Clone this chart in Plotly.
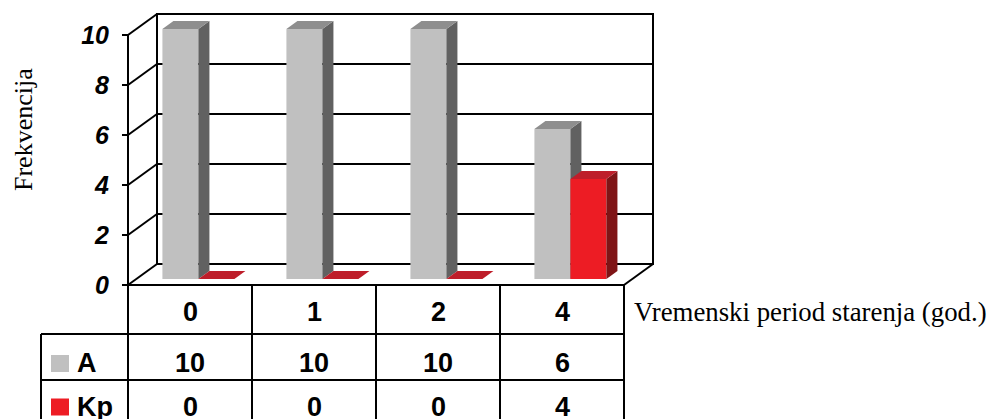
import plotly.graph_objects as go

# data
categories = ["0", "1", "2", "4"]
series_names = ["A", "Kp"]
values_A = [10, 10, 10, 6]
values_Kp = [0, 0, 0, 4]
y_ticks = [0, 2, 4, 6, 8, 10]

W, H = 987, 419
PX_X0, PX_CW = 128, 124     # pixel of x=-0.5, pixels per category
PX_Y0, PX_YU = 285, 25      # pixel of y=0, pixels per unit

XR = [-0.5 - PX_X0 / PX_CW, -0.5 + (W - PX_X0) / PX_CW]
YR = [-(H - PX_Y0) / PX_YU, PX_Y0 / PX_YU]

DX, DY = 29 / PX_CW, 21 / PX_YU     # depth of the 3d box
F0, FD = 0.29, 0.38                  # bar start depth and bar depth
BW = 36 / PX_CW                      # bar width
BASE = F0 * DY

colors = {
    "A": dict(front="#c0c0c0", side="#616161", top="#8e8e8e"),
    "Kp": dict(front="#ed1c24", side="#7f1416", top="#be1e2a"),
}
FONT = "Liberation Sans, Arial, sans-serif"
SERIF = "Liberation Serif, Times New Roman, serif"

fig = go.Figure()


def add_series(name, vals, side, z):
    c = colors[name]
    xs = [i + F0 * DX + (-BW / 2 if side == 0 else BW / 2) for i in range(len(vals))]
    fig.add_trace(go.Bar(x=xs, y=vals, base=BASE, width=BW,
                         marker=dict(color=c["front"], line=dict(width=0)),
                         hoverinfo="skip", showlegend=False, zorder=z))
    sx, sy, tx, ty = [], [], [], []
    for xc, v in zip(xs, vals):
        xl, xr = xc - BW / 2, xc + BW / 2
        b, t = BASE, BASE + v
        ddx, ddy = FD * DX, FD * DY
        if v > 0:
            sx += [xr, xr + ddx, xr + ddx, xr, xr, None]
            sy += [b, b + ddy, t + ddy, t, b, None]
        tx += [xl, xr, xr + ddx, xl + ddx, xl, None]
        ty += [t, t, t + ddy, t + ddy, t, None]
    if sx:
        fig.add_trace(go.Scatter(x=sx, y=sy, mode="lines", fill="toself",
                                 fillcolor=c["side"], line=dict(width=0),
                                 hoverinfo="skip", showlegend=False, zorder=z))
    fig.add_trace(go.Scatter(x=tx, y=ty, mode="lines", fill="toself",
                             fillcolor=c["top"], line=dict(width=0),
                             hoverinfo="skip", showlegend=False, zorder=z))


add_series("A", values_A, 0, 1)
add_series("Kp", values_Kp, 1, 2)

n = len(categories)
L, R = -0.5, n - 0.5
top = max(y_ticks)
ln = dict(color="black", width=2)
shapes = []
# back wall + grid
shapes.append(dict(type="rect", x0=L + DX, x1=R + DX, y0=DY, y1=top + DY, line=ln, layer="below"))
for v in y_ticks[1:-1]:
    shapes.append(dict(type="line", x0=L + DX, x1=R + DX, y0=v + DY, y1=v + DY, line=ln, layer="below"))
# left wall diagonals and front axis
for v in y_ticks:
    shapes.append(dict(type="line", x0=L, x1=L + DX, y0=v, y1=v + DY, line=ln, layer="below"))
shapes.append(dict(type="line", x0=L, x1=L, y0=0, y1=top, line=ln, layer="below"))
shapes.append(dict(type="line", x0=R, x1=R + DX, y0=0, y1=DY, line=ln, layer="below"))

# data table
row_y = [0, -49 / PX_YU, -95 / PX_YU, -142 / PX_YU]
LEG_L = -0.5 - (PX_X0 - 41) / PX_CW
shapes.append(dict(type="line", x0=L, x1=R, y0=row_y[0], y1=row_y[0], line=ln))
for yy in row_y[1:3]:
    shapes.append(dict(type="line", x0=LEG_L, x1=R, y0=yy, y1=yy, line=ln))
for k in range(n + 1):
    shapes.append(dict(type="line", x0=L + k, x1=L + k, y0=0, y1=row_y[-1], line=ln))
shapes.append(dict(type="line", x0=LEG_L, x1=LEG_L, y0=row_y[1], y1=row_y[-1], line=ln))

ann = []
cell_font = dict(family=FONT, size=27, color="black", weight="bold")
row_mid = [-1.08, -3.12, -4.86]
for i, cat in enumerate(categories):
    ann.append(dict(x=i, y=row_mid[0], text=cat, showarrow=False, font=cell_font))
for r, vals in enumerate([values_A, values_Kp]):
    for i, v in enumerate(vals):
        ann.append(dict(x=i, y=row_mid[r + 1], text=str(v), showarrow=False, font=cell_font))
    sw_x0 = LEG_L + 10 / PX_CW
    sw_x1 = sw_x0 + 18 / PX_CW
    yc = row_mid[r + 1] - 0.02
    shapes.append(dict(type="rect", x0=sw_x0, x1=sw_x1, y0=yc - 0.34, y1=yc + 0.34,
                       fillcolor=colors[series_names[r]]["front"], line=dict(width=0)))
    ann.append(dict(x=sw_x1 + 6 / PX_CW, y=row_mid[r + 1], text=series_names[r], xanchor="left",
                    showarrow=False, font=cell_font))

ann.append(dict(x=R + 8 / PX_CW, y=-1.08, text="Vremenski period starenja (god.)", xanchor="left",
                showarrow=False, font=dict(family=SERIF, size=26.8, color="black")))
ann.append(dict(xref="paper", yref="paper", x=23 / W, y=1 - 130 / H, text="Frekvencija", textangle=-90,
                xanchor="center", yanchor="middle",
                showarrow=False, font=dict(family=SERIF, size=26, color="black")))

fig.update_layout(
    width=W, height=H, autosize=False,
    margin=dict(l=0, r=0, t=0, b=0),
    paper_bgcolor="white", plot_bgcolor="white",
    barmode="overlay", showlegend=False,
    xaxis=dict(range=XR, visible=False, fixedrange=True),
    yaxis=dict(range=YR, tickvals=y_ticks, ticks="outside", ticklen=6, tickwidth=2, tickcolor="black",
               showgrid=False, zeroline=False, showline=False, anchor="free", position=PX_X0 / W,
               ticklabelstandoff=8, fixedrange=True,
               tickfont=dict(family=FONT, size=25, color="black", weight="bold", style="italic")),
    shapes=shapes, annotations=ann,
)

# the page body has a default 8px margin, drop it so the figure sits at the corner
fig.write_html("out.html", config={"displayModeBar": False},
               post_script="document.body.style.margin='0';")
